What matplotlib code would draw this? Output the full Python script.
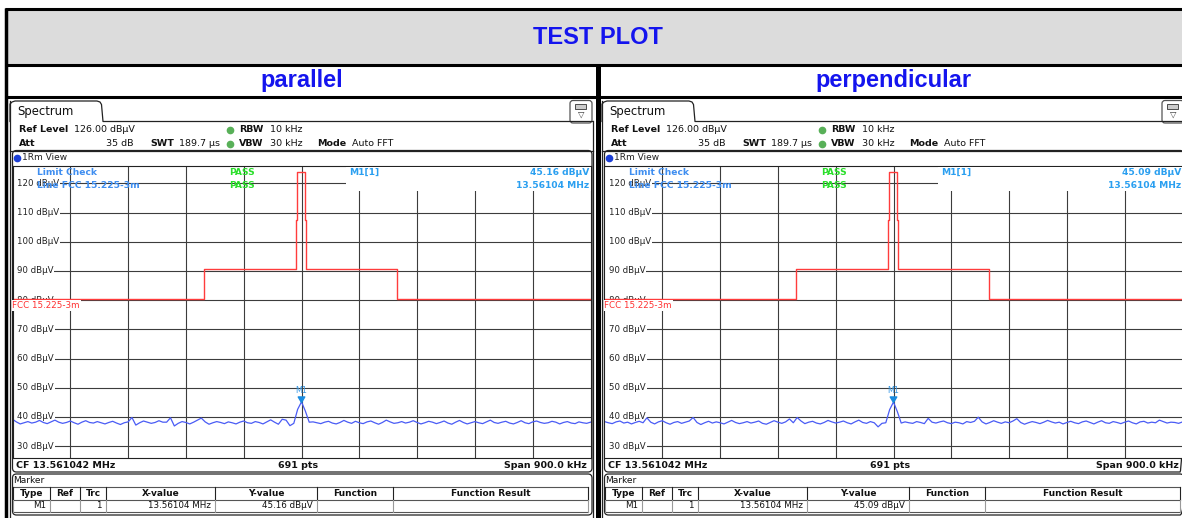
import numpy as np
import matplotlib.pyplot as plt
from matplotlib.patches import Rectangle, FancyBboxPatch

### DATA
panel_names = ["parallel", "perpendicular"]
center_freq = 13.561042   # MHz
span = 0.9                # MHz
n_points = 691
marker_freq = 13.56104
marker_level = [45.16, 45.09]
level_ticks = [30, 40, 50, 60, 70, 80, 90, 100, 110, 120]

# FCC 15.225 (3 m) limit line
limit_freq = [13.111042, 13.410, 13.410, 13.553, 13.553, 13.5545, 13.5545,
              13.567, 13.567, 13.5685, 13.5685, 13.710, 13.710, 14.011042]
limit_level = [80.5, 80.5, 90.5, 90.5, 107.4, 107.4, 124.0,
               124.0, 107.4, 107.4, 90.5, 90.5, 80.5, 80.5]

# trace, every 6 kHz (151 values)
trace_parallel = [
    39.2, 38.3, 37.6, 38.0, 38.4, 37.9, 38.2, 38.8, 38.1, 37.7, 38.3, 38.9, 38.2, 37.8, 38.1,
    38.6, 38.0, 37.5, 38.2, 38.7, 38.1, 37.9, 38.4, 38.0, 37.6, 38.1, 38.5, 37.9, 37.4, 38.0,
    38.3, 39.8, 37.2, 38.0, 38.6, 38.2, 37.8, 38.1, 38.7, 38.2, 38.2, 39.7, 36.9, 37.8, 38.4,
    38.1, 37.6, 38.2, 38.9, 39.6, 38.3, 37.5, 38.0, 38.4, 38.1, 37.7, 38.3, 38.0, 37.6, 38.2,
    38.6, 38.0, 37.8, 38.4, 38.1, 37.6, 38.3, 39.0, 38.2, 37.5, 39.2, 38.9, 37.0, 37.8, 42.6,
    45.16,
    42.0, 38.2, 38.3, 38.0, 37.7, 38.2, 38.5, 37.9, 37.6, 38.1, 38.8, 38.2, 37.8, 38.5, 38.0,
    37.7, 38.3, 38.6, 38.0, 37.5, 38.1, 38.9, 38.3, 37.8, 38.0, 38.4, 37.9, 38.2, 38.7, 38.1,
    37.6, 38.0, 38.5, 38.2, 37.7, 38.1, 38.6, 37.9, 37.5, 38.2, 38.8, 38.1, 37.6, 38.0, 38.4,
    38.0, 37.7, 38.3, 38.9, 38.1, 37.8, 38.2, 38.5, 37.9, 37.6, 38.1, 38.7, 38.0, 37.7, 38.3,
    38.6, 38.1, 37.8, 38.0, 38.5, 38.2, 37.6, 38.1, 38.4, 37.9, 37.7, 38.3, 38.0, 37.8, 38.2,
]
trace_perpendicular = [
    38.4, 38.0, 37.7, 38.3, 38.6, 37.9, 38.2, 37.6, 38.1, 38.5, 38.0, 39.7, 38.2, 37.6, 38.3,
    38.7, 38.0, 37.5, 38.1, 38.4, 37.8, 38.2, 38.6, 39.8, 38.1, 37.4, 38.0, 38.5, 37.9, 38.3,
    38.0, 37.6, 38.2, 38.8, 38.1, 37.7, 38.0, 38.4, 37.9, 38.2, 38.6, 37.8, 37.5, 38.1, 38.7,
    38.2, 37.8, 38.3, 39.3, 38.0, 39.8, 38.6, 37.7, 38.2, 38.5, 37.9, 37.6, 38.1, 38.8, 38.3,
    37.9, 38.2, 38.6, 38.0, 37.6, 38.3, 38.9, 38.1, 37.8, 38.4, 38.0, 36.6, 37.8, 38.0, 42.5,
    45.09,
    41.8, 37.9, 38.3, 38.0, 37.8, 38.4, 38.1, 37.7, 39.5, 38.2, 37.9, 38.3, 38.6, 38.0, 37.7,
    38.2, 38.0, 37.6, 38.4, 38.1, 38.5, 39.9, 38.3, 37.6, 38.1, 38.7, 38.2, 37.8, 38.3, 38.0,
    38.6, 39.4, 38.1, 37.5, 38.0, 38.4, 38.1, 37.7, 38.2, 38.8, 38.3, 37.9, 38.2, 37.6, 38.1,
    38.5, 38.0, 37.7, 38.3, 38.6, 38.1, 37.6, 38.2, 38.7, 38.0, 37.8, 38.4, 38.1, 37.7, 38.2,
    38.6, 38.0, 37.6, 38.3, 38.5, 37.9, 38.2, 38.0, 38.9, 38.4, 37.9, 38.2, 38.1, 37.8, 38.3,
]
traces = [trace_parallel, trace_perpendicular]

table_cols = ["Type", "Ref", "Trc", "X-value", "Y-value", "Function", "Function Result"]

### FIGURE
W, H = 1182, 518
fig = plt.figure(figsize=(W / 100, H / 100), dpi=100)
bg = fig.add_axes([0, 0, 1, 1])
bg.set_xlim(0, W)
bg.set_ylim(H, 0)
bg.axis("off")

# outer table with title row
bg.add_patch(Rectangle((5, 8), W, 56, fc="#dcdcdc", ec="none"))
for y in [8.5, 64.5, 97]:
    bg.plot([5, W], [y, y], color="k", lw=2.2, solid_capstyle="butt")
bg.plot([5.5, 5.5], [7.5, H], color="k", lw=2.5, solid_capstyle="butt")
bg.plot([597.5, 597.5], [64, H], color="k", lw=3.6, solid_capstyle="butt")
title_kw = dict(ha="center", va="center", color="#1414ee", fontsize=17,
                fontweight="bold", family=["Liberation Sans", "DejaVu Sans"])
bg.text(598, 37, "TEST PLOT", **title_kw)

dark = "#222222"
fs = 6.8


def draw_panel(o, name, trace, peak):
    bg.text(o + 302, 81, name, **title_kw)

    # screenshot frame + tab
    bg.plot([o + 10, o + 10], [101, H], color=dark, lw=0.9)
    bg.plot([o + 593, o + 593], [121, H], color=dark, lw=0.9)
    bg.plot([o + 10, o + 10, o + 12, o + 15, o + 97, o + 100, o + 101.5, o + 103, o + 593],
            [121.5, 104, 102, 101, 101, 102, 104.5, 121.5, 121.5], color=dark, lw=0.9)
    bg.text(o + 17.5, 112, "Spectrum", fontsize=8.4, va="center", color="#111")
    bg.add_patch(FancyBboxPatch((o + 570, 100.5), 22, 22.5,
                                boxstyle="round,pad=0,rounding_size=3",
                                fc="white", ec="#555", lw=0.9))
    bg.add_patch(Rectangle((o + 575, 104), 11, 4.5, fc="#cccccc", ec="#333", lw=0.6))
    bg.text(o + 581, 114.5, "\u25bd", fontsize=6, ha="center", va="center", color="#333")

    # settings rows
    def t(x, y, s, bold=False, ha="left", **kw):
        bg.text(o + x, y, s, fontsize=fs, ha=ha, va="center", color="#111",
                fontweight="bold" if bold else "normal", **kw)
    t(19, 129.3, "Ref Level", True)
    t(74, 129.3, "126.00 dB\u00b5V")
    t(19, 143.3, "Att", True)
    t(134, 143.3, "35 dB", ha="right")
    t(150, 143.3, "SWT", True)
    t(179, 143.3, "189.7 \u00b5s")
    t(239, 129.3, "RBW", True)
    t(270, 129.3, "10 kHz")
    t(239, 143.3, "VBW", True)
    t(270, 143.3, "30 kHz")
    t(317, 143.3, "Mode", True)
    t(352, 143.3, "Auto FFT")
    bg.plot([o + 230, o + 230], [129.5, 143.5], ls="none", marker="o", ms=4.5, color="#58b058")

    # view box
    bg.plot([o + 10, o + 593], [150.5, 150.5], color=dark, lw=0.9)
    bg.add_patch(FancyBboxPatch((o + 12.5, 150.5), 579.5, 321.5,
                                boxstyle="round,pad=0,rounding_size=4",
                                fc="none", ec=dark, lw=0.9))
    bg.plot([o + 17.3], [157.5], marker="o", ms=4.5, color="#1c3fd6")
    bg.text(o + 22, 157.5, "1Rm View", fontsize=6.5, va="center", color="#222")

    # footer
    t(16, 465, "CF 13.561042 MHz", True)
    t(298, 465, f"{n_points} pts", True, ha="center")
    t(587, 465, "Span 900.0 kHz", True, ha="right")

    # marker table
    bg.add_patch(FancyBboxPatch((o + 12.5, 474), 579.5, 41,
                                boxstyle="round,pad=0,rounding_size=4",
                                fc="none", ec=dark, lw=0.9))
    bg.text(o + 13.5, 480.5, "Marker", fontsize=6.5, va="center", color="#111")
    col_x = [13, 50, 80, 106, 215, 317, 393, 588]
    for y in [487, 499.5, 512]:
        bg.plot([o + 13, o + 588], [y, y], color="#555", lw=0.8)
    for i, x in enumerate(col_x):
        bg.plot([o + x, o + x], [487, 499.5], color=dark, lw=0.8)
        bg.plot([o + x, o + x], [499.5, 512], color="#999", lw=0.8)
    row = ["M1", "", "1", f"{marker_freq:.5f} MHz", f"{peak:.2f} dB\u00b5V", "", ""]
    for i, name_c in enumerate(table_cols):
        xa, xb = col_x[i], col_x[i + 1]
        bg.text(o + (xa + xb) / 2, 493.5, name_c, fontsize=6.5, fontweight="bold",
                ha="center", va="center", color="#111")
        bg.text(o + xb - 4, 506, row[i], fontsize=6.3, ha="right", va="center", color="#111")

    # spectrum plot
    x0, x1, yt, yb = o + 12.5, o + 590.5, 165.8, 457.8
    ax = fig.add_axes([x0 / W, 1 - yb / H, (x1 - x0) / W, (yb - yt) / H])
    f0, f1 = center_freq - span / 2, center_freq + span / 2
    ax.set_xlim(f0, f1)
    ax.set_ylim(26, 126)
    ax.set_xticks(np.linspace(f0, f1, 11)[1:-1])
    ax.set_yticks(level_ticks)
    ax.tick_params(length=0, labelbottom=False, labelleft=False)
    ax.grid(True, color="#3c3c3c", lw=0.8)
    ax.set_axisbelow(True)
    for s in ax.spines.values():
        s.set_color(dark)
        s.set_linewidth(0.8)

    ytr = ax.get_yaxis_transform()
    for v in level_ticks:
        ax.add_patch(Rectangle((0, v - 1.5), 0.012, 3, transform=ytr,
                               fc="white", ec="none", zorder=1))
        ax.text(0.0085, v, f"{v} dB\u00b5V", transform=ytr,
                fontsize=6.2, ha="left", va="center", color="#222", zorder=1.1,
                bbox=dict(fc="white", ec="none", pad=0.4))

    ax.plot(limit_freq, limit_level, color="#ff3c3c", lw=1.0, zorder=2)
    ax.text(0.0, 78.2, "FCC 15.225-3m", transform=ytr,
            fontsize=6.3, ha="left", va="center", color="#ff3030", zorder=3,
            bbox=dict(fc="white", ec="none", pad=0.6))

    freqs = np.linspace(f0, f1, len(trace))
    ax.plot(freqs, trace, color="#4a5cf5", lw=0.9, zorder=2.2)
    ax.plot([marker_freq], [peak], ls="none",
            marker=[(0, 0), (-1, 1.7), (1, 1.7), (0, 0)], ms=8, color="#1a8ce0", zorder=5)
    ax.text(marker_freq, peak + 4.0, "M1", ha="center", va="center",
            fontsize=5.8, color="#3a9ae6", zorder=5)

    # marker / limit info overlay
    ax.add_patch(Rectangle((o + 346, 167), 245, 24, transform=bg.transData,
                           fc="white", ec="none", zorder=2.6))
    info = dict(transform=bg.transData, fontsize=6.6, fontweight="bold",
                va="center", zorder=6)
    ax.text(o + 36.7, 172.3, "Limit Check", color="#3f8ef0", **info)
    ax.text(o + 36.7, 185.3, "Line FCC 15.225-3m", color="#3f8ef0", **info)
    ax.text(o + 229.3, 172.3, "PASS", color="#2adf2a", **info)
    ax.text(o + 229.3, 185.3, "PASS", color="#2adf2a", **info)
    ax.text(o + 349, 172.3, "M1[1]", color="#2a9ff0", **info)
    ax.text(o + 589.5, 172.3, f"{peak:.2f} dB\u00b5V", color="#2a9ff0", ha="right", **info)
    ax.text(o + 589.5, 185.5, f"{marker_freq:.5f} MHz", color="#2a9ff0", ha="right", **info)


for o, name, trace, peak in zip([0, 592], panel_names, traces, marker_level):
    draw_panel(o, name, trace, peak)

fig.savefig("out.png", dpi=100)
